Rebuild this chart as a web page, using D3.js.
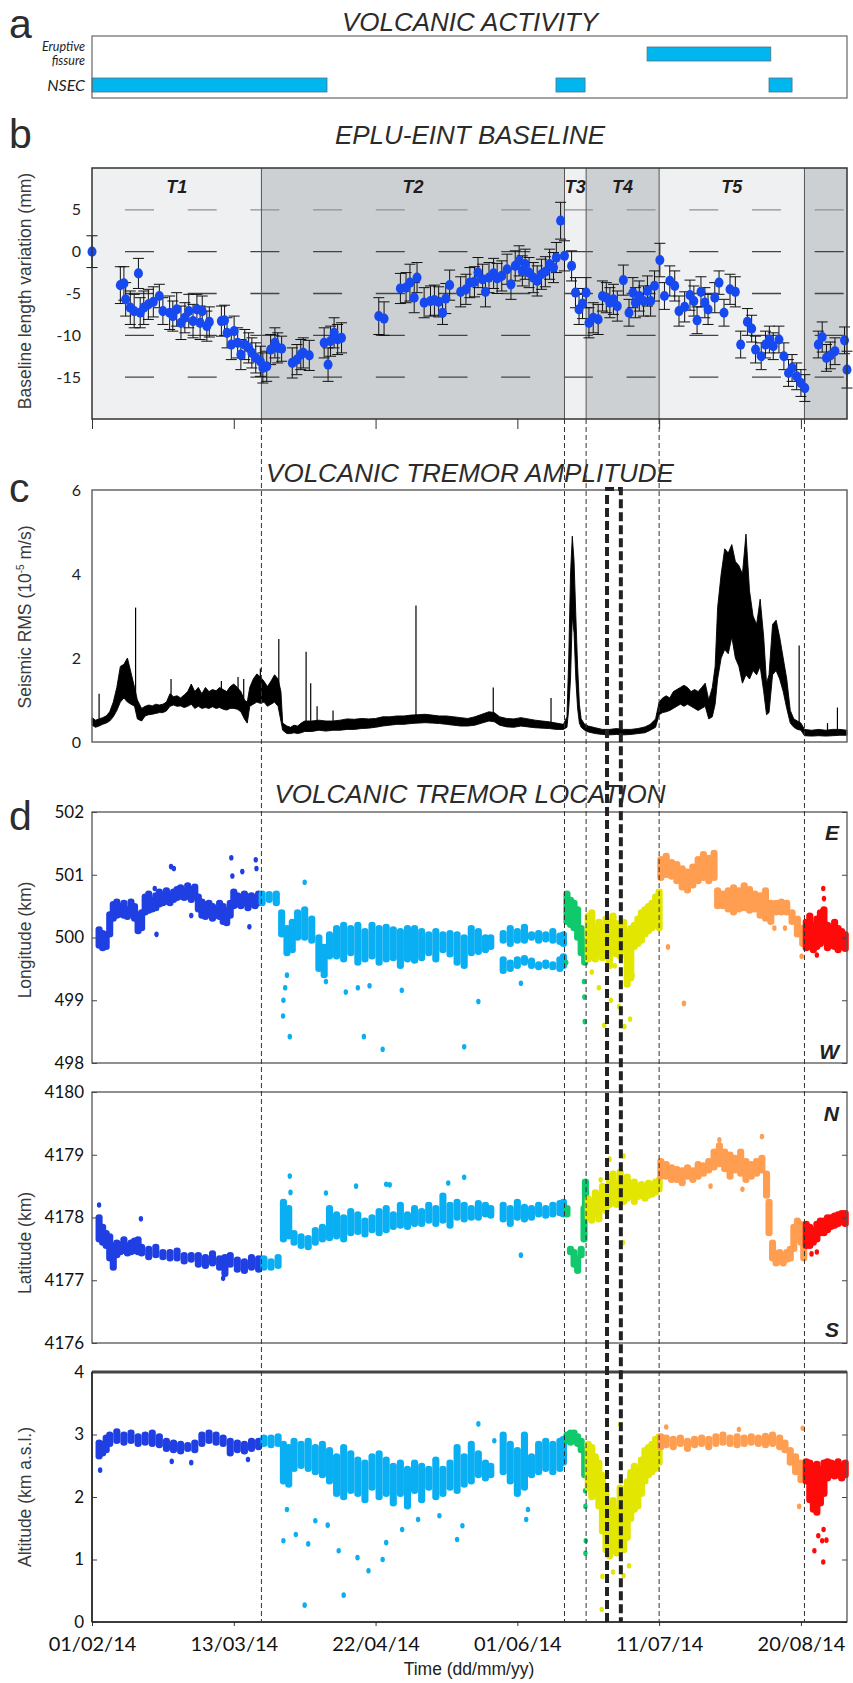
<!DOCTYPE html>
<html>
<head>
<meta charset="utf-8">
<script src="https://cdn.jsdelivr.net/npm/d3@7"></script>
<style>
  body { margin: 0; background: #fff; }
  svg text { font-family: "Liberation Sans", Arial, sans-serif; }
</style>
</head>
<body>
<script>
const width = 853, height = 1683;
const plotLeft = 92, plotRight = 847;

// time axis, in days since 01/02/14
const dayDomain = [0, 213];
const tickDays = [0, 40, 80, 120, 160, 200];
const tickLabels = ["01/02/14", "13/03/14", "22/04/14", "01/06/14", "11/07/14", "20/08/14"];

// periods T1..T5 and the last one after T5
const periodNames = ["T1", "T2", "T3", "T4", "T5", ""];
const periodStarts = [0, 47.8, 133.3, 139.4, 160, 201];
const periodEnds = [47.8, 133.3, 139.4, 160, 201, 213];
const periodColors = ["#1f3fe2", "#0aaef2", "#10c96c", "#e2e600", "#ff9d50", "#ff0a0a"];
const boundaryDays = [47.8, 133.3, 139.4, 160, 201];
const focusWindow = [145.3, 149.2];

// a - volcanic activity
const activityRows = ["Eruptive fissure", "NSEC"];
const fissureSpans = [[156.6, 191.5]];
const nsecSpans = [[0, 66.3], [130.9, 139.1], [191, 197.5]];

// b - EPLU-EINT baseline [day, mm, error]
const baselineTicks = [5, 0, -5, -10, -15];
const baseline = [
  [0,0,1.9],[8,-4.0,2.2],[9,-3.8,2.0],[9.5,-5.7,2.0],[10.8,-6.7,2.0],[11.9,-7.1,2.0],[13.1,-2.6,1.8],[13.6,-7.3,1.8],
  [14.6,-6.7,2.0],[15.9,-6.3,1.8],[17.3,-6.0,1.8],[19,-5.3,1.4],[20,-7.1,1.6],[21.9,-7.3,2.0],[22.8,-7.7,1.8],[23.9,-6.9,2.0],
  [25.1,-8.5,2.0],[26.2,-7.9,1.8],[27.3,-7.1,2.0],[28.5,-8.3,2.0],[29.6,-6.9,1.8],[30.5,-8.5,2.0],[31.1,-7.1,1.8],[32.4,-8.9,1.8],
  [33.1,-8.4,1.8],[36.5,-8.3,1.8],[37.4,-8.2,1.8],[38.1,-9.7,1.8],[39.3,-11.1,1.8],[40.1,-9.5,1.8],[41.1,-10.9,1.8],[42,-12.3,1.8],
  [43.1,-11.1,1.8],[44.2,-11.5,1.8],[45.1,-12.1,1.8],[46.2,-12.7,1.8],[47.5,-13.1,1.8],[48.2,-13.9,1.8],[49.3,-13.7,1.8],[50.4,-11.7,1.8],
  [51.6,-10.9,1.8],[52.4,-11.5,1.8],[53.5,-11.6,1.5],[56.5,-13.3,1.8],[57.8,-12.9,1.8],[58.9,-12.3,1.8],[59.6,-12.1,1.8],[61.3,-12.4,1.8],
  [65.5,-10.9,1.8],[66.6,-13.5,2.0],[67.3,-10.7,1.8],[68.3,-9.7,1.8],[69.3,-10.5,1.8],[70.4,-10.3,1.8],
  [80.9,-7.7,2.2],[82.4,-8.0,2.0],[87,-4.4,1.8],[88.6,-4.3,1.8],[89.7,-3.7,2.2],[90.9,-5.5,1.8],[91.7,-3.1,1.8],[93.7,-6.1,1.8],
  [95.5,-5.9,1.8],[96.6,-5.8,1.8],[97.8,-6.0,1.8],[98.9,-7.3,1.4],[99.8,-5.6,1.8],[100.9,-4.0,1.8],[104,-4.8,1.8],[105.5,-4.5,1.8],
  [106.6,-3.7,1.8],[107.9,-3.6,1.8],[108.9,-2.5,1.8],[110.2,-3.3,1.8],[111,-4.8,1.8],[112,-3.1,1.8],[113.3,-2.6,1.8],[114.3,-3.2,1.8],
  [115.6,-2.9,1.8],[117.1,-2.1,1.8],[118.2,-3.9,1.8],[119.4,-1.7,1.8],[120.5,-1.1,1.8],[121.4,-2.3,1.8],[122.2,-1.5,1.8],[123.3,-2.5,1.8],
  [124.5,-3.1,1.8],[125.6,-3.5,1.8],[126.8,-2.7,1.8],[127.9,-2.4,1.8],[129.1,-1.5,1.8],[130.2,-1.9,1.8],[131,-0.7,1.8],[132.2,3.7,2.2],
  [133.3,-0.5,1.8],[135.3,-1.7,1.8],[136.4,-4.9,1.8],[137.4,-6.9,1.8],[138.4,-6.2,1.8],[139.4,-4.9,1.8],[140.2,-8.5,1.8],[141.4,-7.9,1.8],
  [142.8,-8.1,1.8],[144,-5.3,1.8],[145.1,-5.5,1.8],[146.1,-6.1,1.8],[147.1,-5.7,1.8],[148.2,-6.5,1.8],[149.9,-3.4,1.8],[151.5,-7.3,1.6],
  [152.6,-4.9,1.8],[153.3,-6.1,1.8],[154.4,-5.3,1.8],[155.6,-5.9,1.8],[156.7,-4.7,1.8],[157.6,-5.9,1.8],[158.7,-4.1,1.8],[160.2,-1.0,2.0],
  [161.5,-5.3,1.6],[163,-3.5,1.8],[164.4,-4.1,1.8],[165.6,-7.1,1.8],[167.2,-6.6,1.8],[168.7,-5.2,1.8],[169.8,-5.9,1.8],[170.7,-8.2,1.6],
  [171.8,-4.8,1.8],[172.9,-6.1,1.8],[173.8,-6.9,1.8],[175.7,-5.5,1.8],[176.9,-3.7,1.4],[178.3,-7.3,1.6],[180,-4.5,1.8],[181.5,-4.8,1.8],
  [183,-11.1,1.6],[184.9,-8.4,1.6],[186.1,-9.2,1.6],[187.2,-11.7,1.6],[188.8,-12.5,1.6],[190,-11.1,1.6],[191.1,-10.5,1.6],[192.2,-11.3,1.6],
  [193.8,-10.5,1.6],[195.2,-12.5,1.6],[196.5,-14.5,1.6],[197.5,-13.9,1.6],[198.8,-14.9,1.6],[200,-15.7,1.6],[201.1,-16.3,1.6],
  [204.9,-11.1,1.6],[206,-10.2,1.8],[207.2,-12.7,1.6],[208.3,-12.4,1.6],[209.6,-11.9,1.6],[212.3,-10.6,1.6],[213,-14.1,2.2]
];

// c - tremor amplitude envelope [day, low, high] and spikes [day, base, top]
const rmsTicks = [0, 2, 4, 6];
const tremorEnv = [
  [0,0.4,0.58],[1,0.35,0.52],[2,0.38,0.55],[3,0.42,0.58],[4,0.45,0.62],[5,0.5,0.72],[6,0.6,0.95],[7,0.75,1.3],[8,0.95,1.8],
  [9,1.05,1.85],[10,0.95,2.0],[11,0.9,1.65],[12,0.85,1.3],[12.8,0.55,1.0],[14,0.5,0.8],[15,0.62,0.85],[16,0.65,0.88],[17,0.66,0.86],
  [18,0.68,0.9],[19,0.7,0.88],[20,0.7,0.9],[21,0.74,0.95],[22,0.85,1.15],[23,0.88,1.08],[24,0.85,1.1],[25,0.86,1.05],[26,0.82,1.12],
  [27,0.85,1.2],[28,0.9,1.38],[29,0.8,1.2],[30,0.85,1.3],[31,0.8,1.15],[32,0.82,1.3],[33,0.8,1.2],[34,0.84,1.25],[35,0.8,1.22],
  [36,0.82,1.3],[37,0.78,1.25],[38,0.76,1.2],[39,0.8,1.32],[40,0.8,1.38],[41,0.78,1.3],[42,0.72,1.2],[43,0.55,1.0],[43.8,0.45,0.95],
  [44.5,0.85,1.3],[45.5,0.9,1.5],[46.5,0.95,1.62],[47.5,0.92,1.55],[48.5,0.95,1.45],[49.5,0.85,1.32],[50.5,0.9,1.45],[51.5,0.95,1.6],
  [52.5,0.85,1.5],[53.3,0.5,1.2],[53.8,0.28,0.45],[55,0.2,0.38],[56,0.2,0.35],[57,0.22,0.4],[58,0.2,0.38],[59,0.22,0.45],[60,0.25,0.5],
  [62,0.25,0.5],[64,0.28,0.52],[66,0.26,0.5],[68,0.28,0.5],[70,0.28,0.52],[72,0.3,0.55],[74,0.3,0.54],[76,0.32,0.56],[78,0.33,0.55],
  [80,0.35,0.56],[82,0.38,0.6],[84,0.4,0.6],[86,0.42,0.62],[88,0.42,0.62],[90,0.44,0.64],[92,0.45,0.65],[94,0.46,0.66],[96,0.45,0.64],
  [98,0.44,0.62],[100,0.42,0.62],[102,0.4,0.6],[104,0.38,0.58],[106,0.38,0.56],[108,0.4,0.6],[110,0.45,0.66],[112,0.5,0.72],
  [113.5,0.48,0.7],[115,0.4,0.6],[117,0.36,0.56],[119,0.35,0.55],[121,0.38,0.58],[123,0.36,0.55],[125,0.34,0.52],[127,0.33,0.5],
  [129,0.32,0.48],[131,0.3,0.45],[133,0.3,0.42],[134,0.35,0.6],[134.5,0.8,2.0],[135,1.5,4.0],[135.5,3.0,4.9],[136,2.6,4.3],
  [136.5,1.5,3.0],[137,0.8,1.8],[137.5,0.45,0.9],[138,0.35,0.55],[139,0.28,0.42],[140,0.24,0.38],[142,0.2,0.34],[144,0.18,0.3],
  [146,0.17,0.3],[148,0.18,0.32],[150,0.17,0.3],[152,0.18,0.3],[154,0.2,0.32],[156,0.22,0.36],[157.5,0.28,0.42],[159,0.35,0.55],
  [160,0.65,0.95],[161,0.7,1.05],[162,0.72,1.1],[163,0.75,1.05],[164,0.8,1.2],[165,0.85,1.25],[166,0.9,1.3],[167,0.85,1.35],
  [168,0.9,1.3],[169,0.85,1.2],[170,0.8,1.25],[171,0.75,1.2],[172,0.8,1.3],[173,0.85,1.4],[174,0.55,1.0],[175,0.6,1.3],[175.8,0.9,1.8],
  [176.5,1.5,3.2],[177.5,2.0,4.0],[178.5,2.2,4.6],[179.5,2.1,4.5],[180.5,2.5,4.7],[181.5,2.0,4.3],[182.5,1.8,4.2],[183.5,1.4,4.0],
  [184.5,1.6,4.95],[185.5,1.5,3.6],[186.5,1.7,3.0],[187.5,1.6,2.8],[188.5,1.8,3.4],[189.5,1.2,2.5],[190.3,0.65,1.4],[191,0.7,1.6],
  [192,1.6,2.8],[193,1.7,2.9],[194,1.5,2.5],[195,1.2,2.0],[196,0.8,1.5],[197,0.45,0.75],[198,0.35,0.55],[199,0.3,0.5],[200,0.28,0.45],
  [201,0.15,0.3],[203,0.14,0.28],[205,0.15,0.3],[207,0.14,0.28],[209,0.15,0.3],[211,0.16,0.3],[213,0.16,0.28]
];
const tremorSpikes = [
  [2,0.45,1.15],[12.3,1.0,3.2],[22.3,0.9,1.5],[36.5,1.0,1.45],[41.2,1.0,1.55],[42.8,0.9,1.5],[47.5,1.2,1.75],[52.7,1.2,2.45],
  [60.4,0.3,2.15],[61.7,0.3,1.4],[63.5,0.3,0.85],[68,0.3,0.75],[91.4,0.5,3.25],[113.2,0.5,1.3],[129.5,0.35,1.05],
  [199.5,0.35,2.3],[207.5,0.2,0.45],[210.3,0.2,0.82]
];

// d - tremor location: bands [day, low, high] and single dots [day, value], one list per period
const lonTicks = [498, 499, 500, 501, 502];
const lonT1 = [[2,499.82,500.18],[3,499.78,500.12],[4,499.8,500.1],[5,500.0,500.42],[6,500.25,500.58],[7,500.3,500.62],[8,500.32,500.55],
  [9,500.3,500.6],[10,500.28,500.5],[11,500.33,500.62],[12,500.25,500.55],[13,500.05,500.4],[14,500.1,500.45],[15,500.35,500.7],
  [16,500.38,500.75],[17,500.4,500.65],[18,500.42,500.72],[19,500.48,500.78],[20,500.5,500.72],[21,500.52,500.8],[22,500.5,500.7],
  [23,500.55,500.78],[24,500.58,500.82],[25,500.6,500.85],[26,500.58,500.8],[27,500.6,500.88],[28,500.55,500.82],[29,500.6,500.86],
  [30,500.4,500.7],[31,500.3,500.62],[32,500.28,500.58],[33,500.32,500.6],[34,500.25,500.55],[35,500.3,500.5],[36,500.28,500.6],
  [37,500.2,500.55],[38,500.18,500.48],[39,500.3,500.6],[40,500.45,500.78],[41,500.48,500.72],[42,500.45,500.7],[43,500.5,500.75],
  [44,500.42,500.7],[45,500.48,500.72],[46,500.45,500.68],[47,500.5,500.75]];
const lonT1Dots = [[22.3,501.13],[23.1,501.1],[39.3,501.27],[39.6,500.98],[42.4,501.05],[46.2,501.24],[46.4,501.1],[28,500.35],[18.2,500.05],[44.4,500.17],[17.7,500.78]];
const lonT2 = [[48,500.5,500.75],[50,500.55,500.74],[52,500.5,500.75],[53.5,500.0,500.45],[55,499.7,500.2],[56.5,499.75,500.3],
  [58,499.95,500.45],[60,499.95,500.5],[62,499.9,500.35],[64,499.45,500.05],[65.5,499.35,499.9],[67,499.65,500.1],[69,499.65,500.2],
  [71,499.6,500.25],[73,499.7,500.2],[75,499.55,500.25],[77,499.6,500.15],[79,499.65,500.25],[81,499.55,500.2],[83,499.6,500.22],
  [85,499.62,500.18],[87,499.5,500.15],[89,499.6,500.2],[91,499.58,500.2],[93,499.62,500.15],[95,499.7,500.1],[97,499.6,500.15],
  [99,499.75,500.1],[101,499.68,500.12],[103,499.55,500.1],[105,499.5,500.05],[107,499.7,500.2],[109,499.72,500.15],[111,499.75,500.05],
  [112.5,499.8,500.05],[116,499.9,500.12],[118,499.85,500.2],[120,499.9,500.15],[122,499.9,500.22],[124,499.95,500.1],[126,499.9,500.12],
  [128,499.92,500.1],[130,499.9,500.15],[132,499.88,500.08],[133,499.85,500.1],[116,499.42,499.7],[118,499.45,499.65],[120,499.5,499.7],
  [122,499.55,499.72],[124,499.5,499.68],[126,499.48,499.62],[128,499.5,499.65],[130,499.48,499.62],[132,499.45,499.7],[133,499.5,499.75]];
const lonT2Dots = [[54,499.0],[53.9,498.75],[55.8,498.42],[54.5,499.2],[55,499.4],[71.6,499.13],[75,499.2],[76.7,498.42],[78.3,499.23],
  [82,498.22],[87.4,499.16],[105,498.26],[109,498.98],[121,499.27],[60,500.88],[66,499.3]];
const lonT3 = [[134,500.2,500.75],[135,500.15,500.65],[136,500.1,500.6],[137,499.95,500.5],[138,499.7,500.2],[139,499.55,500.0]];
const lonT3Dots = [[138.8,499.3],[138.9,499.05],[139,498.66],[133.8,499.6]];
const lonT4 = [[140,499.6,500.4],[141,499.65,500.45],[142,499.6,500.2],[143,499.7,500.3],[144,499.62,500.2],[145,499.7,500.35],
  [146,499.5,500.3],[147,499.7,500.4],[148,499.68,500.28],[149,499.65,500.2],[150,499.75,500.3],[151,499.2,500.1],[152,499.3,500.2],
  [153,499.8,500.25],[154,499.85,500.35],[155,499.9,500.45],[156,500.0,500.5],[157,500.05,500.55],[158,500.1,500.6],[159,500.15,500.7],[160,500.1,500.78]];
const lonT4Dots = [[144.5,498.6],[146.4,499.0],[148.7,498.9],[150.2,498.58],[151.8,498.7],[141,499.45],[147.5,499.55],[143,499.2],[152.5,499.4]];
const lonT5 = [[160.5,500.9,501.3],[162,500.95,501.35],[163.5,500.92,501.25],[165,500.85,501.22],[166.5,500.75,501.15],[168,500.7,501.1],
  [169.5,500.78,501.18],[171,500.85,501.3],[172.5,500.9,501.38],[174,500.85,501.32],[175.5,500.9,501.4],[176.5,500.45,500.8],
  [178,500.45,500.75],[179.5,500.4,500.8],[181,500.35,500.85],[182.5,500.4,500.8],[184,500.42,500.88],[185.5,500.38,500.82],
  [187,500.4,500.75],[188.5,500.3,500.72],[190,500.25,500.8],[191.5,500.2,500.6],[193,500.35,500.6],[194.5,500.35,500.62],
  [196,500.35,500.6],[197.5,500.2,500.45],[199,500.0,500.35],[200.5,499.85,500.2]];
const lonT5Dots = [[162.5,499.85],[167,498.95],[192.5,500.15],[195.5,500.15],[200.2,499.7]];
const lonT6 = [[201.5,499.78,500.3],[202.5,499.8,500.4],[203.5,499.75,500.25],[204.5,499.8,500.35],[205.5,499.85,500.45],[206.5,499.9,500.5],
  [207.5,499.78,500.25],[208.5,499.82,500.2],[209.5,499.8,500.3],[210.5,499.75,500.2],[211.5,499.8,500.15],[212.5,499.77,500.1]];
const lonT6Dots = [[206.3,500.78],[206.5,500.62],[204.5,499.72]];

const latTicks = [4176, 4177, 4178, 4179, 4180];
const latT1 = [[2,4177.6,4178.05],[3,4177.55,4177.9],[4,4177.5,4177.8],[5,4177.3,4177.75],[6,4177.15,4177.6],[7,4177.35,4177.65],
  [8,4177.4,4177.62],[9,4177.42,4177.7],[10,4177.38,4177.6],[11,4177.4,4177.65],[12,4177.42,4177.68],[13,4177.4,4177.7],[14,4177.38,4177.58],
  [16,4177.32,4177.55],[18,4177.35,4177.58],[20,4177.32,4177.5],[22,4177.3,4177.5],[24,4177.3,4177.52],[26,4177.25,4177.45],
  [28,4177.28,4177.45],[30,4177.2,4177.45],[32,4177.18,4177.42],[34,4177.22,4177.48],[36,4177.15,4177.4],[37.5,4177.05,4177.42],
  [39,4177.2,4177.45],[41,4177.12,4177.38],[43,4177.1,4177.35],[45,4177.15,4177.42],[47,4177.12,4177.4]];
const latT1Dots = [[2,4178.2],[13.8,4177.98],[37,4177.03]];
const latT2 = [[48.5,4177.15,4177.4],[50.5,4177.15,4177.35],[52.5,4177.18,4177.42],[54,4177.6,4178.3],[55.5,4177.65,4178.2],
  [57,4177.55,4177.8],[59,4177.5,4177.75],[61,4177.48,4177.72],[63,4177.55,4177.85],[65,4177.6,4177.9],[67,4177.62,4178.2],
  [69,4177.65,4178.1],[71,4177.6,4178.05],[73,4177.7,4178.15],[75,4177.72,4178.1],[77,4177.68,4178.0],[79,4177.75,4178.05],
  [81,4177.7,4178.15],[83,4177.75,4178.2],[85,4177.8,4178.1],[87,4177.82,4178.25],[89,4177.8,4178.1],[91,4177.85,4178.2],
  [93,4177.85,4178.15],[95,4177.9,4178.25],[97,4177.85,4178.2],[99,4177.9,4178.4],[101,4177.82,4178.25],[103,4177.95,4178.3],
  [105,4177.92,4178.25],[107,4177.95,4178.2],[109,4177.95,4178.28],[111,4178.0,4178.25],[112.5,4177.98,4178.2],[116,4177.92,4178.25],
  [118,4177.85,4178.2],[120,4177.95,4178.3],[122,4177.92,4178.22],[124,4177.95,4178.2],[126,4178.0,4178.25],[128,4177.98,4178.2],
  [130,4178.0,4178.25],[132,4178.02,4178.28],[133,4178.0,4178.3]];
const latT2Dots = [[55.8,4178.66],[56,4178.4],[66,4178.39],[74.5,4178.5],[83,4178.53],[84,4178.52],[105,4178.64],[121,4177.4],[100.5,4178.55]];
const latT3 = [[134,4178.0,4178.2],[135,4177.4,4177.55],[136,4177.2,4177.5],[137,4177.1,4177.4],[138,4177.35,4177.55],[138.8,4177.6,4178.2],[139.2,4178.1,4178.62]];
const latT3Dots = [];
const latT4 = [[140,4177.95,4178.35],[141,4177.9,4178.3],[142,4178.0,4178.45],[143,4177.92,4178.4],[144,4178.1,4178.55],[145,4178.05,4178.5],
  [146,4178.15,4178.7],[147,4178.2,4178.75],[148,4178.15,4178.6],[149,4178.18,4178.78],[150,4178.2,4178.65],[151,4178.25,4178.7],
  [152,4178.3,4178.6],[153,4178.2,4178.62],[154,4178.28,4178.55],[155,4178.3,4178.58],[156,4178.25,4178.5],[157,4178.3,4178.6],
  [158,4178.32,4178.55],[159,4178.35,4178.62],[160,4178.4,4178.65]];
const latT4Dots = [[146,4178.93],[150,4178.98],[149.8,4177.6],[143.5,4178.6]];
const latT5 = [[160.5,4178.6,4178.95],[162,4178.6,4178.9],[163.5,4178.55,4178.85],[165,4178.55,4178.82],[166.5,4178.5,4178.8],
  [168,4178.6,4178.85],[169.5,4178.55,4178.8],[171,4178.6,4178.9],[172.5,4178.65,4178.88],[174,4178.7,4178.95],[175.5,4178.75,4179.1],
  [177,4178.8,4179.2],[178.5,4178.72,4179.1],[180,4178.6,4179.05],[181.5,4178.7,4179.0],[183,4178.65,4179.1],[184.5,4178.55,4178.95],
  [186,4178.6,4178.9],[187.5,4178.65,4178.95],[189,4178.7,4179.0],[190.3,4178.3,4178.75],[191,4177.7,4178.3],[192,4177.3,4177.65],
  [193,4177.22,4177.48],[194,4177.25,4177.5],[195,4177.22,4177.45],[196,4177.28,4177.5],[197,4177.3,4177.55],[198,4177.45,4177.9],
  [199,4177.6,4178.0],[200,4177.55,4177.95],[200.8,4177.3,4177.7]];
const latT5Dots = [[177,4179.24],[189,4179.29],[183.5,4178.45],[174.5,4178.5]];
const latT6 = [[201.5,4177.5,4177.95],[202.5,4177.5,4177.9],[203.5,4177.55,4177.85],[204.5,4177.6,4177.95],[205.5,4177.7,4178.0],
  [206.5,4177.7,4178.0],[207.5,4177.75,4178.05],[208.5,4177.8,4178.05],[209.5,4177.82,4178.08],[210.5,4177.85,4178.1],
  [211.5,4177.88,4178.12],[212.5,4177.85,4178.12]];
const latT6Dots = [[203,4177.42],[204.5,4177.45]];

const altTicks = [0, 1, 2, 3, 4];
const altT1 = [[2,2.6,2.92],[3,2.65,2.9],[4,2.7,3.0],[5,2.8,3.05],[7,2.85,3.1],[9,2.82,3.05],[11,2.85,3.08],[13,2.8,3.02],[15,2.82,3.05],
  [17,2.8,3.08],[19,2.78,3.02],[21,2.72,2.95],[23,2.7,2.92],[25,2.68,2.9],[27,2.72,2.88],[29,2.7,2.92],[31,2.8,3.05],[33,2.85,3.08],
  [35,2.82,3.05],[37,2.8,3.0],[39,2.65,2.95],[41,2.7,2.92],[43,2.68,2.9],[45,2.72,2.95],[47,2.75,2.95]];
const altT1Dots = [[2.3,2.43],[22.5,2.57],[28,2.55],[44,2.6]];
const altT2 = [[48.5,2.8,3.0],[50.5,2.78,3.0],[52.5,2.8,3.02],[54,2.2,2.9],[55.5,2.15,2.85],[57,2.4,2.95],[59,2.45,2.9],[61,2.4,2.95],
  [63,2.35,2.85],[65,2.3,2.9],[67,2.2,2.8],[69,2.0,2.7],[71,1.95,2.85],[73,2.05,2.75],[75,2.0,2.65],[77,1.9,2.6],[79,2.1,2.7],[81,1.95,2.75],
  [83,2.0,2.65],[85,1.85,2.55],[87,2.0,2.6],[89,1.8,2.5],[91,2.05,2.6],[93,1.9,2.55],[95,2.1,2.5],[97,1.95,2.65],[99,2.0,2.5],[101,2.1,2.6],
  [103,2.05,2.85],[105,2.15,2.7],[107,2.2,2.9],[109,2.3,2.75],[111,2.25,2.6],[112.5,2.3,2.55],[116,2.35,3.05],[118,2.2,2.9],[120,2.0,2.8],
  [122,2.1,3.05],[124,2.3,2.7],[126,2.35,2.9],[128,2.4,2.95],[130,2.35,2.9],[132,2.4,2.95],[133,2.5,2.98]];
const altT2Dots = [[54,1.3],[57.5,1.4],[61,1.25],[55,1.8],[63,1.62],[69.6,1.14],[74.9,1.03],[78,0.82],[82,1.0],[83,1.27],[87.5,1.48],
  [92,1.64],[103,1.32],[104.5,1.54],[122.5,1.64],[123,1.8],[60,0.27],[71,0.43],[109,3.17],[66.5,1.55],[98,1.7],[113.5,2.9]];
const altT3 = [[134,2.85,3.05],[135,2.82,3.08],[136,2.85,3.08],[137,2.8,3.02],[138,2.7,2.95],[139,2.3,2.8]];
const altT3Dots = [[139.2,1.85],[139.3,1.3],[139.2,1.1],[139.1,2.1]];
const altT4 = [[140,2.1,2.9],[141,1.95,2.85],[142,2.0,2.7],[143,1.8,2.6],[144,1.4,2.4],[145,1.1,2.2],[146,1.0,1.95],[147,1.2,2.0],
  [148,1.05,1.85],[149,1.2,2.2],[150,1.1,2.1],[151,1.3,2.3],[152,1.6,2.45],[153,1.75,2.55],[154,1.8,2.5],[155,2.0,2.65],[156,2.2,2.8],
  [157,2.3,2.85],[158,2.35,2.9],[159,2.4,2.98],[160,2.5,3.02]];
const altT4Dots = [[143.8,0.2],[144,0.73],[147,0.8],[150,0.74],[149,3.16],[151.5,0.9]];
const altT5 = [[160.5,2.75,3.02],[162,2.78,3.0],[164,2.75,2.98],[166,2.8,3.0],[168,2.72,2.95],[170,2.78,2.98],[172,2.8,3.0],[174,2.75,2.98],
  [176,2.8,3.02],[178,2.82,3.05],[180,2.8,3.0],[182,2.78,3.02],[184,2.8,3.0],[186,2.82,3.02],[188,2.8,3.0],[190,2.78,3.03],[192,2.8,3.05],
  [194,2.75,3.0],[195.5,2.7,2.92],[197,2.5,2.8],[198.5,2.35,2.7],[200,2.22,2.6],[200.8,2.25,2.55]];
const altT5Dots = [[162,3.12],[182.5,3.08],[200.5,3.1],[199.5,1.85]];
const altT6 = [[201.5,2.2,2.62],[202.5,1.9,2.6],[203.5,1.75,2.55],[204.5,1.7,2.58],[205.5,1.85,2.5],[206.5,2.0,2.6],[207.5,2.25,2.62],
  [208.5,2.3,2.6],[209.5,2.28,2.58],[210.5,2.3,2.62],[211.5,2.25,2.55],[212.5,2.3,2.6]];
const altT6Dots = [[204.9,1.38],[206.4,1.48],[206,1.3],[203.8,1.14],[206.3,0.96],[207.2,1.31]];

const lonBands = [lonT1, lonT2, lonT3, lonT4, lonT5, lonT6];
const lonDots = [lonT1Dots, lonT2Dots, lonT3Dots, lonT4Dots, lonT5Dots, lonT6Dots];
const latBands = [latT1, latT2, latT3, latT4, latT5, latT6];
const latDots = [latT1Dots, latT2Dots, latT3Dots, latT4Dots, latT5Dots, latT6Dots];
const altBands = [altT1, altT2, altT3, altT4, altT5, altT6];
const altDots = [altT1Dots, altT2Dots, altT3Dots, altT4Dots, altT5Dots, altT6Dots];

// ---------------------------------------------------------------------------
const svg = d3.select("body").append("svg")
    .attr("width", width)
    .attr("height", height);

const x = d3.scaleLinear().domain(dayDomain).range([plotLeft, plotRight]);

const boxA = {top: 36, bottom: 98},
      boxB = {top: 168, bottom: 419},
      boxC = {top: 490, bottom: 742},
      boxLon = {top: 812, bottom: 1063},
      boxLat = {top: 1092, bottom: 1343},
      boxAlt = {top: 1372, bottom: 1622};

const yB = d3.scaleLinear().domain([-20, 10]).range([boxB.bottom, boxB.top]);
const yC = d3.scaleLinear().domain([0, 6]).range([boxC.bottom, boxC.top]);
const yLon = d3.scaleLinear().domain([498, 502]).range([boxLon.bottom, boxLon.top]);
const yLat = d3.scaleLinear().domain([4176, 4180]).range([boxLat.bottom, boxLat.top]);
const yAlt = d3.scaleLinear().domain([0, 4]).range([boxAlt.bottom, boxAlt.top]);

function panelLetter(letter, yb) {
    svg.append("text")
        .attr("x", 9).attr("y", yb)
        .style("font-size", "41px")
        .attr("fill", "#2d2d2d")
        .text(letter);
}

function panelTitle(title, yb) {
    svg.append("text")
        .attr("x", 470).attr("y", yb)
        .attr("text-anchor", "middle")
        .style("font-size", "26px")
        .style("font-style", "italic")
        .attr("fill", "#2b2b2b")
        .text(title);
}

function yTitle(label, yc) {
    return svg.append("text")
        .attr("text-anchor", "middle")
        .attr("transform", "translate(31," + yc + ")rotate(-90)")
        .style("font-size", "17.5px")
        .attr("fill", "#3a3a3a")
        .text(label);
}

function frame(box, color, w) {
    svg.append("rect")
        .attr("x", plotLeft).attr("y", box.top)
        .attr("width", plotRight - plotLeft)
        .attr("height", box.bottom - box.top)
        .attr("fill", "none")
        .attr("stroke", color)
        .attr("stroke-width", w);
}

// ---------- a ----------
panelLetter("a", 38);
panelTitle("VOLCANIC ACTIVITY", 31);

const rowY = d3.scalePoint().domain(activityRows).range([54, 85]);
const barH = 14;

svg.append("g").selectAll("rect")
    .data(fissureSpans.map(s => ({row: activityRows[0], s: s}))
        .concat(nsecSpans.map(s => ({row: activityRows[1], s: s}))))
    .enter().append("rect")
    .attr("x", d => x(d.s[0]))
    .attr("y", d => rowY(d.row) - barH / 2)
    .attr("width", d => x(d.s[1]) - x(d.s[0]))
    .attr("height", barH)
    .attr("fill", "#00b6ee")
    .attr("stroke", "#4f7189")
    .attr("stroke-width", 0.8);

svg.append("text").attr("x", 85).attr("y", rowY(activityRows[0]) - 3)
    .attr("text-anchor", "end").style("font-family", "Lato").style("font-style", "italic")
    .style("font-size", "12.5px").attr("fill", "#222").text("Eruptive");
svg.append("text").attr("x", 85).attr("y", rowY(activityRows[0]) + 11)
    .attr("text-anchor", "end").style("font-family", "Lato").style("font-style", "italic")
    .style("font-size", "12.5px").attr("fill", "#222").text("fissure");
svg.append("text").attr("x", 85).attr("y", rowY(activityRows[1]) + 6)
    .attr("text-anchor", "end").style("font-family", "Lato").style("font-style", "italic")
    .style("font-size", "16px").attr("fill", "#222").text(activityRows[1]);

frame(boxA, "#666", 1.2);

// ---------- b ----------
panelLetter("b", 148);
panelTitle("EPLU-EINT BASELINE", 144);

svg.append("g").selectAll("rect")
    .data(periodNames)
    .enter().append("rect")
    .attr("x", (d, i) => x(periodStarts[i]))
    .attr("y", boxB.top)
    .attr("width", (d, i) => x(periodEnds[i]) - x(periodStarts[i]))
    .attr("height", boxB.bottom - boxB.top)
    .attr("fill", (d, i) => i % 2 === 0 ? "#eff0f2" : "#cdd0d3");

svg.append("g").selectAll("text")
    .data(periodNames)
    .enter().append("text")
    .attr("x", (d, i) => x((periodStarts[i] + periodEnds[i]) / 2))
    .attr("y", 193)
    .attr("text-anchor", "middle")
    .style("font-size", "18px")
    .style("font-weight", "bold")
    .style("font-style", "italic")
    .attr("fill", "#1d1d1d")
    .text(d => d);

svg.append("g").selectAll("line")
    .data(baselineTicks)
    .enter().append("line")
    .attr("x1", 125).attr("x2", plotRight)
    .attr("y1", d => yB(d)).attr("y2", d => yB(d))
    .attr("stroke", d => d === 5 ? "#8f8f8f" : "#444")
    .attr("stroke-width", 1.4)
    .attr("stroke-dasharray", "29,33.7");

svg.append("g").selectAll("line")
    .data(boundaryDays)
    .enter().append("line")
    .attr("x1", d => x(d)).attr("x2", d => x(d))
    .attr("y1", boxB.top).attr("y2", boxB.bottom)
    .attr("stroke", "#555").attr("stroke-width", 1);

let errG = svg.append("g").attr("stroke", "#111").attr("stroke-width", 1);
errG.selectAll(".eb")
    .data(baseline)
    .enter().append("path")
    .attr("class", "eb")
    .attr("fill", "none")
    .attr("d", d => {
        let cx = x(d[0]), t = yB(d[1] + d[2]), b = yB(d[1] - d[2]);
        return "M" + cx + "," + t + "V" + b +
               "M" + (cx - 5.5) + "," + t + "H" + (cx + 5.5) +
               "M" + (cx - 5.5) + "," + b + "H" + (cx + 5.5);
    });

svg.append("g").selectAll("ellipse")
    .data(baseline)
    .enter().append("ellipse")
    .attr("cx", d => x(d[0]))
    .attr("cy", d => yB(d[1]))
    .attr("rx", 4.5).attr("ry", 5.1)
    .attr("fill", "#1749f0");

frame(boxB, "#333", 1.5);

let xAxisB = d3.axisBottom(x).tickValues(tickDays).tickFormat("").tickSize(10);
svg.append("g")
    .attr("transform", "translate(0," + boxB.bottom + ")")
    .call(xAxisB)
    .call(g => g.select(".domain").remove())
    .call(g => g.selectAll("line").attr("stroke", "#333"));

let yAxisB = d3.axisLeft(yB).tickValues(baselineTicks).tickFormat(d => d.toString()).tickSize(0).tickPadding(11);
svg.append("g")
    .attr("transform", "translate(" + plotLeft + ",0)")
    .call(yAxisB)
    .call(g => g.select(".domain").remove())
    .call(g => g.selectAll("text").style("font-family", "Lato").style("font-size", "16px").attr("fill", "#222"));

yTitle("Baseline length variation (mm)", 291);

// ---------- c ----------
panelLetter("c", 502);
panelTitle("VOLCANIC TREMOR AMPLITUDE", 482);

let tremorArea = d3.area()
    .x(d => x(d[0]))
    .y0(d => yC(d[1]))
    .y1(d => yC(d[2]));

svg.append("path")
    .attr("d", tremorArea(tremorEnv))
    .attr("fill", "#000")
    .attr("stroke", "#000")
    .attr("stroke-width", 0.9)
    .attr("stroke-linejoin", "round");

svg.append("g").selectAll("line")
    .data(tremorSpikes)
    .enter().append("line")
    .attr("x1", d => x(d[0])).attr("x2", d => x(d[0]))
    .attr("y1", d => yC(d[1])).attr("y2", d => yC(d[2]))
    .attr("stroke", "#000").attr("stroke-width", 1.2);

frame(boxC, "#666", 1.5);

let yAxisC = d3.axisLeft(yC).tickValues(rmsTicks).tickFormat(d => d.toString()).tickSize(0).tickPadding(11);
svg.append("g")
    .attr("transform", "translate(" + plotLeft + ",0)")
    .call(yAxisC)
    .call(g => g.select(".domain").remove())
    .call(g => g.selectAll("text").style("font-family", "Lato").style("font-size", "16px").attr("fill", "#222"));

let rmsLabel = svg.append("text")
    .attr("text-anchor", "middle")
    .attr("transform", "translate(31,617)rotate(-90)")
    .style("font-size", "17.5px")
    .attr("fill", "#3a3a3a");
rmsLabel.append("tspan").text("Seismic RMS (10");
rmsLabel.append("tspan").attr("dy", -7).style("font-size", "10px").text("-5");
rmsLabel.append("tspan").attr("dy", 7).text(" m/s)");

// ---------- d ----------
panelLetter("d", 830);
panelTitle("VOLCANIC TREMOR LOCATION", 803);

const bandW = x(2) - x(0);

function drawCloud(y, bandsList, dotsList) {
    let g = svg.append("g");
    bandsList.forEach((rows, i) => {
        g.append("g").selectAll("rect")
            .data(rows)
            .enter().append("rect")
            .attr("x", d => x(d[0]) - bandW / 2)
            .attr("y", d => y(d[2]))
            .attr("width", bandW)
            .attr("height", d => Math.max(5, y(d[1]) - y(d[2])))
            .attr("rx", 3.5).attr("ry", 3)
            .attr("fill", periodColors[i]);
        g.append("g").selectAll("ellipse")
            .data(dotsList[i])
            .enter().append("ellipse")
            .attr("cx", d => x(d[0]))
            .attr("cy", d => y(d[1]))
            .attr("rx", 2.2).attr("ry", 2.8)
            .attr("fill", periodColors[i]);
    });
}

function locationAxes(y, ticks, box, thickTop) {
    frame(box, "#555", 1.3);
    if (thickTop) {
        svg.append("line")
            .attr("x1", plotLeft).attr("x2", plotRight)
            .attr("y1", box.top).attr("y2", box.top)
            .attr("stroke", "#444").attr("stroke-width", 3);
    }
    svg.append("g")
        .attr("transform", "translate(" + plotLeft + ",0)")
        .call(d3.axisLeft(y).tickValues(ticks).tickFormat(d3.format("d")).tickSize(-5).tickPadding(8))
        .call(g => g.select(".domain").remove())
        .call(g => g.selectAll("line").attr("stroke", "#444"))
        .call(g => g.selectAll("text").style("font-family", "Lato").style("font-size", "17px").attr("fill", "#111"));
    svg.append("g")
        .attr("transform", "translate(" + plotRight + ",0)")
        .call(d3.axisRight(y).tickValues(ticks).tickFormat("").tickSize(-5))
        .call(g => g.select(".domain").remove())
        .call(g => g.selectAll("line").attr("stroke", "#444"));
}

drawCloud(yLon, lonBands, lonDots);
drawCloud(yLat, latBands, latDots);
drawCloud(yAlt, altBands, altDots);

locationAxes(yLon, lonTicks, boxLon, false);
locationAxes(yLat, latTicks, boxLat, false);
locationAxes(yAlt, altTicks, boxAlt, true);

// compass letters
const compass = [["E", 840], ["W", 1059], ["N", 1121], ["S", 1337]];
svg.append("g").selectAll("text")
    .data(compass)
    .enter().append("text")
    .attr("x", 839).attr("y", d => d[1])
    .attr("text-anchor", "end")
    .style("font-size", "21px")
    .style("font-weight", "bold")
    .style("font-style", "italic")
    .attr("fill", "#222")
    .text(d => d[0]);

yTitle("Longitude (km)", 940);
yTitle("Latitude (km)", 1243);
yTitle("Altitude (km a.s.l.)", 1497);

// time axis
let xAxis = d3.axisBottom(x).tickValues(tickDays)
    .tickFormat((d, i) => tickLabels[i]).tickSize(4).tickPadding(11);
svg.append("g")
    .attr("transform", "translate(0," + boxAlt.bottom + ")")
    .call(xAxis)
    .call(g => g.select(".domain").remove())
    .call(g => g.selectAll("line").attr("stroke", "#333"))
    .call(g => g.selectAll("text").style("font-family", "Lato").style("font-size", "20px").attr("fill", "#111"));

svg.append("line")
    .attr("x1", plotLeft).attr("x2", plotLeft)
    .attr("y1", boxAlt.top).attr("y2", boxAlt.bottom)
    .attr("stroke", "#222").attr("stroke-width", 1.6);
svg.append("line")
    .attr("x1", plotLeft).attr("x2", plotRight)
    .attr("y1", boxAlt.bottom).attr("y2", boxAlt.bottom)
    .attr("stroke", "#222").attr("stroke-width", 1.6);

svg.append("text")
    .attr("x", 469).attr("y", 1675)
    .attr("text-anchor", "middle")
    .style("font-size", "17.5px")
    .attr("fill", "#222")
    .text("Time (dd/mm/yy)");

// period boundaries through c and d
svg.append("g").selectAll("line")
    .data(boundaryDays)
    .enter().append("line")
    .attr("x1", d => x(d)).attr("x2", d => x(d))
    .attr("y1", boxB.bottom).attr("y2", boxAlt.bottom)
    .attr("stroke", "#333")
    .attr("stroke-width", 1)
    .attr("stroke-dasharray", "5,3");

// highlighted window
svg.append("path")
    .attr("d", "M" + x(focusWindow[0]) + "," + boxAlt.bottom +
               "V" + (boxC.top - 1) +
               "H" + x(focusWindow[1]) +
               "V" + boxAlt.bottom)
    .attr("fill", "none")
    .attr("stroke", "#222")
    .attr("stroke-width", 4)
    .attr("stroke-dasharray", "9,4");
</script>
</body>
</html>
